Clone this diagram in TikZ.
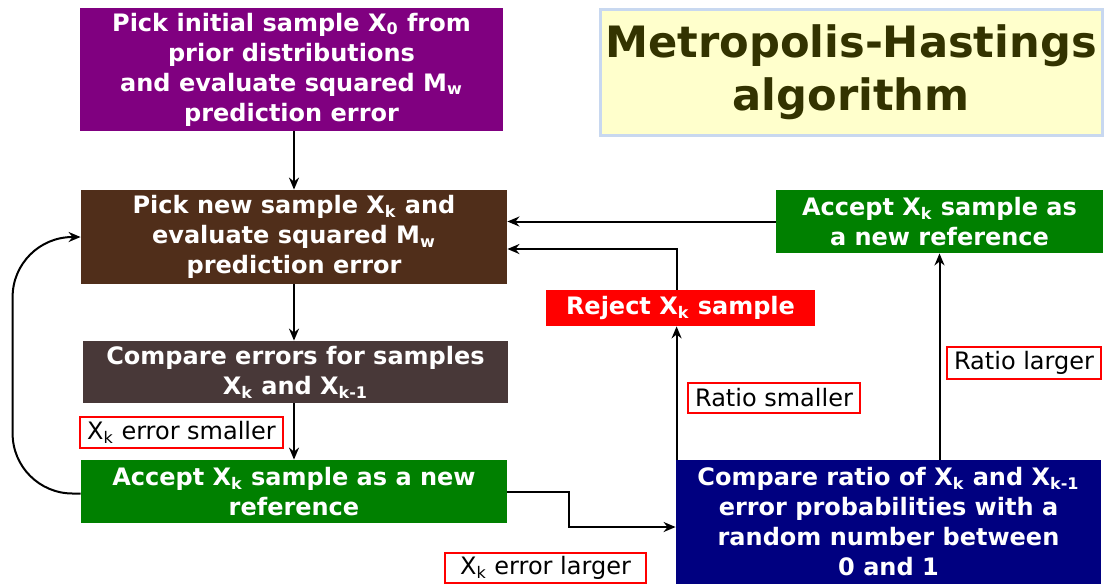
\documentclass[tikz,border=0pt]{standalone}
\usepackage{fontspec}
\setmainfont{DejaVu Sans}
\usetikzlibrary{arrows.meta,positioning,calc}
\definecolor{mhpurple}{RGB}{128,0,128}
\definecolor{mhbrown}{RGB}{80,46,26}
\definecolor{mhtaupe}{RGB}{72,56,56}
\definecolor{mhgreen}{RGB}{0,128,0}
\definecolor{mhred}{RGB}{255,0,0}
\definecolor{mhnavy}{RGB}{0,0,128}
\definecolor{ttlfill}{RGB}{255,255,204}
\definecolor{ttledge}{RGB}{200,216,240}
\definecolor{ttltext}{RGB}{51,51,0}
\newcommand{\Xs}[1]{X\textsubscript{#1}}
\tikzset{
  blk/.style={text=white, align=center, inner sep=0pt, font=\fontsize{12}{15}\selectfont\bfseries},
  lbl/.style={draw=mhred, line width=0.8pt, fill=white, inner sep=0pt, font=\fontsize{12}{14}\selectfont},
  flow/.style={-{Stealth[length=6pt, width=5pt]}, line width=1pt},
  ttl/.style={fill=ttlfill, draw=ttledge, line width=1.5pt, text=ttltext, align=center,
      inner sep=0pt, font=\fontsize{21.6}{26.5}\selectfont\bfseries},
}

\begin{document}
\begin{tikzpicture}[x=0.5pt, y=-0.5pt]
\useasboundingbox (0,0) rectangle (1104,586);
% left column
\node[blk, fill=mhpurple, minimum width=211.5pt, minimum height=61.5pt] (init) at (291.5,69.5)
  {Pick initial sample \Xs{0} from\\prior distributions\\and evaluate squared M\textsubscript{w}\\prediction error};
\node[blk, fill=mhbrown, minimum width=213pt, minimum height=47pt] (newx) at (294,237)
  {Pick new sample \Xs{k} and\\evaluate squared M\textsubscript{w}\\prediction error};
\node[blk, fill=mhtaupe, minimum width=212.5pt, minimum height=31pt] (cmperr) at (295.5,372)
  {Compare errors for samples\\\Xs{k} and \Xs{k-1}};
\node[blk, fill=mhgreen, minimum width=213pt, minimum height=31.5pt] (accl) at (294,491.5)
  {Accept \Xs{k} sample as a new\\reference};
% right side
\node[ttl, minimum width=251pt, minimum height=63pt] (title) at (851,72)
  {Metropolis-Hastings\\algorithm};
\node[blk, fill=mhgreen, minimum width=163.5pt, minimum height=31.5pt] (accr) at (939.5,221.5)
  {Accept \Xs{k} sample as\\a new reference};
\node[blk, fill=mhred, minimum width=134.5pt, minimum height=18pt] (rej) at (680.5,308)
  {Reject \Xs{k} sample};
\node[blk, fill=mhnavy, minimum width=212.5pt, minimum height=62pt] (ratio) at (888.5,522)
  {Compare ratio of \Xs{k} and \Xs{k-1}\\error probabilities with a\\random number between\\0 and 1};
% branch labels
\node[lbl, minimum width=101.5pt, minimum height=15.5pt] (lsmall) at (181.5,432.5) {\Xs{k} error smaller};
\node[lbl, minimum width=100.5pt, minimum height=15pt] (llarge) at (545.5,568) {\Xs{k} error larger};
\node[lbl, minimum width=86pt, minimum height=15pt] (rsmall) at (774,398) {Ratio smaller};
\node[lbl, minimum width=77pt, minimum height=16pt] (rlarge) at (1024,363) {Ratio larger};
% connectors
\draw[flow] (init.south -| newx.north) -- (newx.north);
\draw[flow] (newx.south) -- (newx.south |- cmperr.north);
\draw[flow] (cmperr.south -| newx.south) -- (cmperr.south -| accl.north) -- (accl.north);
\draw[flow, rounded corners=30pt] ([yshift=-1pt]accl.west) -- ++(-68,0) |- (newx.west);
\draw[flow] (accl.east) -- ++(62,0) |- ([yshift=-2.5pt]ratio.west);
\draw[flow] ([xshift=0.5pt]ratio.north west) -- ([xshift=0.5pt]ratio.north west |- rej.south);
\draw[flow] ([xshift=0.5pt]rej.north -| ratio.north west) |- ([yshift=-6pt]newx.east);
\draw[flow] (accr.south |- ratio.north) -- (accr.south);
\draw[flow] (accr.west) -- (accr.west -| newx.east);
\end{tikzpicture}
\end{document}
